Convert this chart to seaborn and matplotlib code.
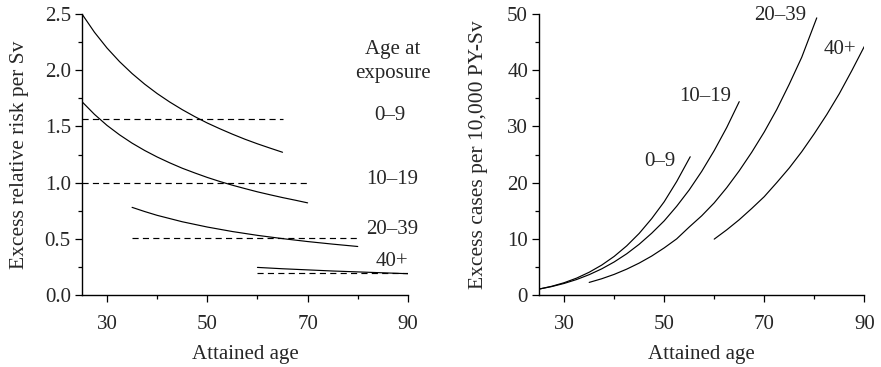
import numpy as np
import pandas as pd
import matplotlib
matplotlib.use("Agg")
import matplotlib.pyplot as plt
import seaborn as sns
from matplotlib.ticker import MultipleLocator

# ---------------- data ----------------
groups = ["0–9", "10–19", "20–39", "40+"]

# Left panel: excess relative risk per Sv (solid curves)
err_age = {
    "0–9":   [25, 27.5, 30, 32.5, 35, 37.5, 40, 42.5, 45, 47.5, 50, 52.5, 55, 57.5, 60, 62.5, 65],
    "10–19": [25, 27.5, 30, 32.5, 35, 37.5, 40, 42.5, 45, 47.5, 50, 52.5, 55, 57.5, 60, 62.5, 65, 67.5, 70],
    "20–39": [35, 37.5, 40, 45, 50, 55, 60, 65, 70, 75, 80],
    "40+":   [60, 65, 70, 75, 80, 85, 90],
}
err_val = {
    "0–9":   [2.50, 2.337, 2.197, 2.076, 1.970, 1.876, 1.792, 1.717, 1.649, 1.587,
              1.530, 1.479, 1.431, 1.386, 1.345, 1.307, 1.27],
    "10–19": [1.72, 1.607, 1.509, 1.425, 1.351, 1.286, 1.228, 1.176, 1.128, 1.086,
              1.046, 1.010, 0.977, 0.947, 0.918, 0.892, 0.867, 0.844, 0.82],
    "20–39": [0.78, 0.743, 0.709, 0.652, 0.605, 0.565, 0.531, 0.502, 0.476, 0.453, 0.432],
    "40+":   [0.246, 0.234, 0.224, 0.214, 0.206, 0.198, 0.19],
}
# Left panel: dashed reference levels (constant ERR) and their age ranges
const_err = [1.57, 1.00, 0.51, 0.20]
const_start = [25, 25, 35, 60]
const_end = [65, 70, 80, 90]

# Right panel: excess cases per 10,000 PY-Sv
ear_age = {
    "0–9":   [25, 27.5, 30, 32.5, 35, 37.5, 40, 42.5, 45, 47.5, 50, 52.5, 55.2],
    "10–19": [25, 27.5, 30, 32.5, 35, 37.5, 40, 42.5, 45, 47.5, 50, 52.5, 55, 57.5, 60, 62.5, 65],
    "20–39": [35, 37.5, 40, 42.5, 45, 47.5, 50, 52.5, 55, 57.5, 60, 62.5, 65, 67.5, 70,
              72.5, 75, 77.5, 80.5],
    "40+":   [60, 62.5, 65, 67.5, 70, 72.5, 75, 77.5, 80, 82.5, 85, 87.5, 90],
}
ear_val = {
    "0–9":   [1.07, 1.56, 2.20, 3.02, 4.06, 5.33, 6.88, 8.75, 10.97, 13.6, 16.6, 20.2, 24.6],
    "10–19": [1.07, 1.51, 2.07, 2.77, 3.63, 4.66, 5.89, 7.34, 9.04, 11.0, 13.2, 15.8,
              18.7, 22.0, 25.7, 29.8, 34.4],
    "20–39": [2.25, 2.90, 3.68, 4.61, 5.69, 6.94, 8.39, 10.0, 12.1, 14.1, 16.4, 19.1,
              22.1, 25.4, 29.0, 33.0, 37.5, 42.3, 49.3],
    "40+":   [9.95, 11.6, 13.4, 15.4, 17.5, 20.0, 22.6, 25.5, 28.7, 32.1, 35.8, 39.9, 44.2],
}

# label positions (x, y in data coords)
left_label_xy = [(86.5, 1.60), (86.9, 1.03), (86.9, 0.58), (86.9, 0.30)]
right_label_xy = [(49.2, 23.7), (58.2, 35.3), (73.1, 49.8), (85.1, 43.7)]

# ---------------- style ----------------
sns.set_theme(style="ticks")
plt.rcParams["font.family"] = ["Liberation Serif", "DejaVu Serif"]
FS = 15
FSL = 15.5

fig = plt.figure(figsize=(8.81, 3.67), dpi=100)
axL = fig.add_axes([0.093, 0.196, 0.370, 0.766])
axR = fig.add_axes([0.612, 0.196, 0.369, 0.766])

lw = 0.85
for g in groups:
    d = pd.DataFrame({"age": err_age[g], "val": err_val[g]})
    sns.lineplot(data=d, x="age", y="val", ax=axL, color="black", lw=lw,
                 estimator=None, sort=False)
for lvl, s, e in zip(const_err, const_start, const_end):
    d = pd.DataFrame({"age": [s, e], "val": [lvl, lvl]})
    sns.lineplot(data=d, x="age", y="val", ax=axL, color="black", lw=lw,
                 estimator=None, sort=False, linestyle=(0, (5.2, 3.6)))

for g in groups:
    d = pd.DataFrame({"age": ear_age[g], "val": ear_val[g]})
    sns.lineplot(data=d, x="age", y="val", ax=axR, color="black", lw=lw,
                 estimator=None, sort=False)

# left panel formatting
axL.set_xlim(25, 90)
axL.set_ylim(0, 2.5)
axL.set_xticks([30, 50, 70, 90])
axL.set_xticks([40, 60, 80], minor=True)
axL.yaxis.set_minor_locator(MultipleLocator(0.25))
axL.set_yticks([0, 0.5, 1.0, 1.5, 2.0, 2.5])
axL.set_yticklabels(["0.0", "0.5", "1.0", "1.5", "2.0", "2.5"])
axL.set_xlabel("Attained age", fontsize=FS, labelpad=8)
axL.set_ylabel("Excess relative risk per Sv", fontsize=FSL, labelpad=11)

axL.text(87.0, 2.18, "Age at", fontsize=FS, ha="center", va="center", clip_on=False)
axL.text(87.0, 1.97, "exposure", fontsize=FS, ha="center", va="center", clip_on=False)
for g, (x, y) in zip(groups, left_label_xy):
    axL.text(x, y, g, fontsize=FS, ha="center", va="center", clip_on=False)

# right panel formatting
axR.set_xlim(25, 90)
axR.set_ylim(0, 50)
axR.set_xticks([30, 50, 70, 90])
axR.set_xticks([40, 60, 80], minor=True)
axR.yaxis.set_major_locator(MultipleLocator(10))
axR.yaxis.set_minor_locator(MultipleLocator(5))
axR.set_xlabel("Attained age", fontsize=FS, labelpad=8)
axR.set_ylabel("Excess cases per 10,000 PY-Sv", fontsize=FSL, labelpad=14)
for g, (x, y) in zip(groups, right_label_xy):
    axR.text(x, y, g, fontsize=FS, ha="center", va="center", clip_on=False)

for ax in (axL, axR):
    sns.despine(ax=ax)
    ax.spines["left"].set_linewidth(1.0)
    ax.spines["bottom"].set_linewidth(1.0)
    ax.spines["left"].set_color("black")
    ax.spines["bottom"].set_color("black")
    ax.tick_params(which="major", direction="out", length=5, width=0.9,
                   labelsize=FS, color="black")
    ax.tick_params(which="minor", direction="out", length=3.2, width=0.9,
                   color="black")
    ax.tick_params(axis="x", which="major", pad=9)
    ax.tick_params(axis="y", which="major", pad=3)
    for lab in ax.get_xticklabels() + ax.get_yticklabels():
        lab.set_fontsize(FS)
    ax.set_facecolor("white")
    ax.grid(False)

fig.savefig("out.png", dpi=100, facecolor="white")
